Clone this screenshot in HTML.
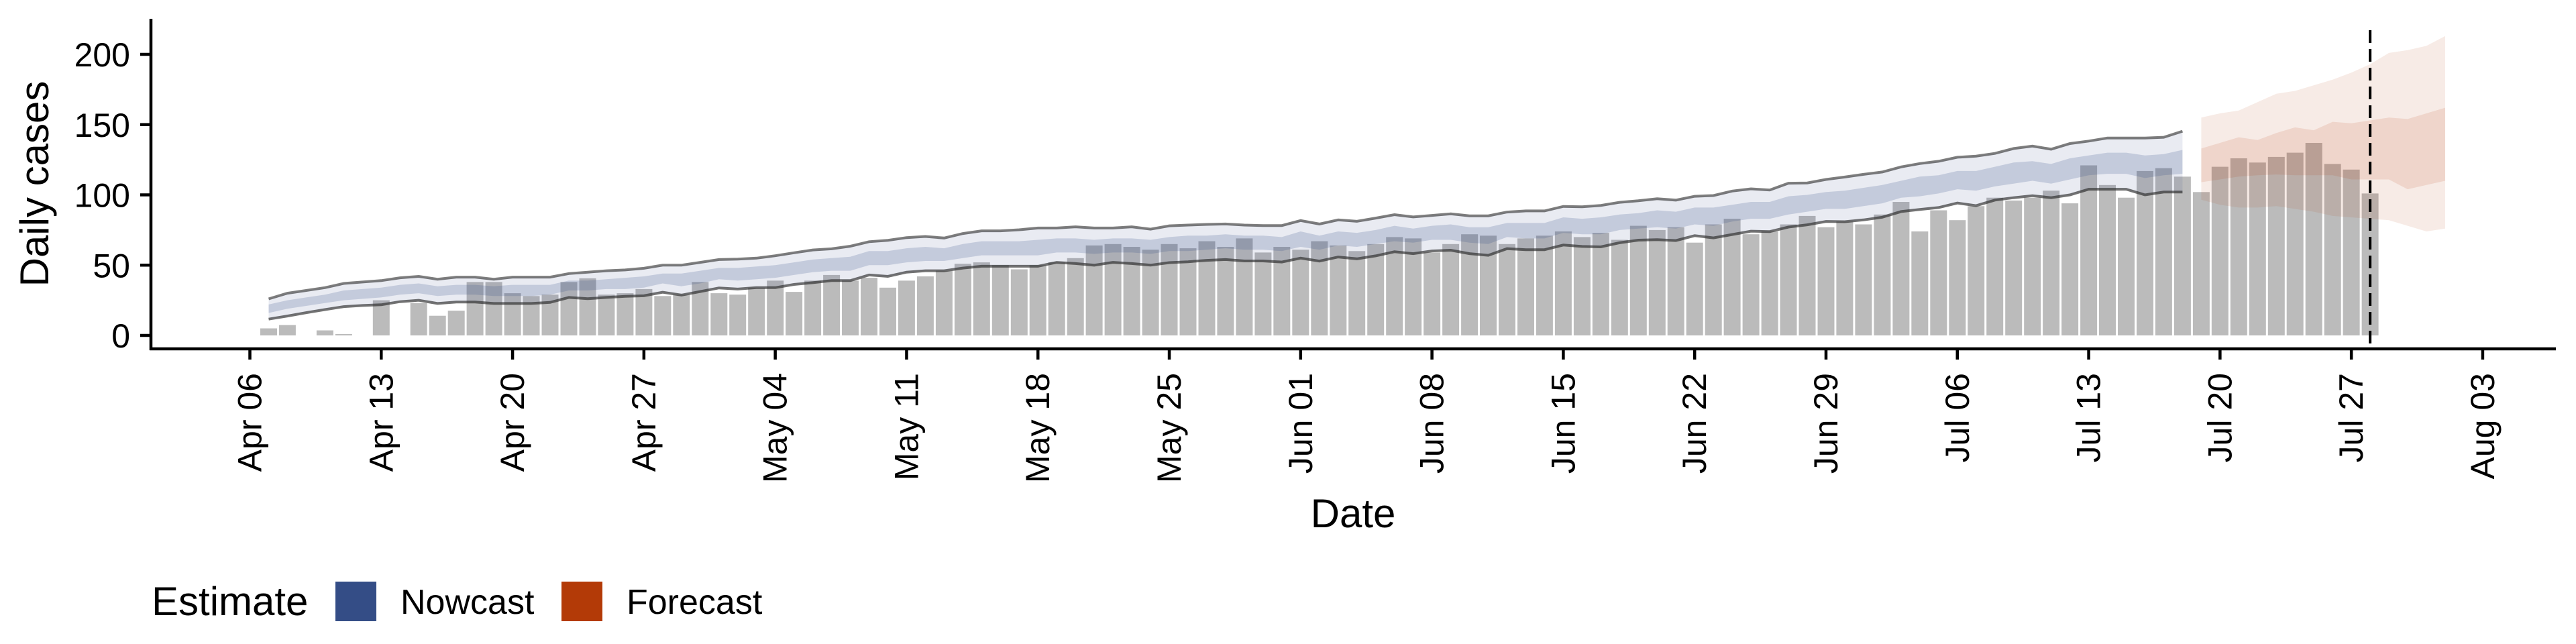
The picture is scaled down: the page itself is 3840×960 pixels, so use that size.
<!DOCTYPE html>
<html><head><meta charset="utf-8">
<style>
html,body{margin:0;padding:0;background:#fff;}
svg{display:block;font-family:"Liberation Sans",Arial,sans-serif;}
</style></head>
<body>
<svg id="chart" width="3840" height="960" viewBox="0 0 3840 960" xmlns="http://www.w3.org/2000/svg">
  <rect x="0" y="0" width="3840" height="960" fill="#fff"/>
  <g id="bars"></g>
  <g id="bands"></g>
  <g id="lines"></g>
  <g id="axes"></g>
  <text x="0" y="0" transform="translate(72,274) rotate(-90)" text-anchor="middle" font-size="60" fill="#000">Daily cases</text>
  <text x="2017" y="786" text-anchor="middle" font-size="60" fill="#000">Date</text>
  <g>
    <text x="226" y="917" font-size="60" fill="#000">Estimate</text>
    <rect x="500" y="867" width="61" height="59" fill="#344d86"/>
    <text x="597" y="915" font-size="52" fill="#000">Nowcast</text>
    <rect x="837" y="867" width="61" height="59" fill="#b33a07"/>
    <text x="934" y="915" font-size="52" fill="#000">Forecast</text>
  </g>
</svg>
<script>
// ---- data (day index 0 = Apr 06) ----
const yTicks = [0, 50, 100, 150, 200];
const xTickDays = [0,7,14,21,28,35,42,49,56,63,70,77,84,91,98,105,112,119];
const xTickLabels = ["Apr 06","Apr 13","Apr 20","Apr 27","May 04","May 11","May 18","May 25","Jun 01","Jun 08","Jun 15","Jun 22","Jun 29","Jul 06","Jul 13","Jul 20","Jul 27","Aug 03"];
const barStartDay = 1;
const cases = [5,7.4,0,3.6,1,0,25,0,23,14,17.6,38,38,30,28,29,38,40.6,29,30,33,28,29,38,30,29,34,39,31,39,43,39,41,34,39,42,46,51,52,50,47,50,52,55,64,65,63,61,65,62,67,63,69,59,63,61,67,64,60,65,70,69,59,65,72,71,65,69,71,74,70,73,68,78,75,77,66,79,83,72,74,79,85,77,81,79,86,95,74,89,82,92,98,96,98,103,94,121,107,98,117,119,113,102,120,126,123,127,130,137,122,118,101];
const nowStartDay = 1;
const nowUpper90 = [26,30,32,34,37,38,39,41,42,40,41.5,41.5,40,41.5,41.5,41.5,44,45,46,46.6,47.8,50,50,52,54,54.3,55,56.7,58.8,60.8,61.6,63.5,66.7,67.7,69.6,70.4,69.3,72.5,74.4,74.4,75.2,76.4,76.4,77.3,76.4,76.4,77.3,75.6,78,78.5,79,79.3,78.5,78.2,78.2,81.7,79.3,82.2,81.2,83.5,85.9,84.3,85.4,86.5,85.1,85.1,87.8,88.6,88.6,91.8,91.5,92.5,94.7,95.8,97.3,96.3,99,99.5,102.7,104.3,103.5,108.3,108.5,111,112.7,114.6,116.3,119.9,122.3,123.9,126.8,127.6,129.5,133,134.7,132.5,136.5,138.3,140.5,140.5,140.5,141,145.3];
const nowLower90 = [11.6,13.8,16.2,18.4,20.5,21.3,21.8,24,25,22.7,23.7,23.7,22.7,22.7,22.7,23.5,27,26.1,27,27.8,28.2,30.7,28.7,31.2,33.8,33,34,34,36.3,37.5,39,39,43,42,45,46,46,47.9,49.2,49.2,49.2,49.2,52,51.1,50,52,51.1,50,51.8,52.4,53.4,54,53,53,52.2,55,52.9,55.8,54.5,56.6,59.5,58.2,60.1,60.6,58.2,57,61.7,61,61,64.3,63.3,63,65.9,67.8,68.1,67.5,71,69.4,71.8,74.2,73.9,77.1,78.7,81.1,80.9,82.2,84.1,88.1,89.6,91,94.2,92.3,96.3,98,99.4,98,100,104,104,104,100,102,102];
const nowUpper50 = [22,25,27,29,32,33,34,36,37,35,36,36,35,36,36,36,39,39,40,41,42,44,44,46,48,48,49,50,52,54,55,56,60,60,62,63,62,65,67,67,67,68,69,69,68,69,69,68,70,71,71,72,71,71,70,74,71,74,73,75,78,76,78,79,77,77,80,80,80,84,83,84,86,87,89,88,91,91,93,95,95,99,100,102,103,105,107,110,113,114,117,117,120,123,124,122,126,128,130,130,128,129,132];
const nowLower50 = [16,19,21,23,25,26,27,29,30,28,29,29,28,28,28,29,32,32,33,33,34,37,35,37,40,39,40,41,43,45,46,46,50,50,52,53,53,55,57,57,57,57,59,59,58,59,59,58,60,60,61,62,61,61,60,63,61,64,63,65,67,66,68,68,66,65,70,69,69,73,72,72,75,76,77,76,79,78,81,83,83,86,88,90,90,92,94,98,99,101,104,103,106,108,110,108,111,114,115,115,112,114,115];
const foreStartDay = 104;
const foreUpper90 = [155,158,160,166,172,174,178,182,187,193,201,203,206,213];
const foreLower90 = [96.5,93,91,91,92,90,88,85,84,83,82,78,74,76];
const foreUpper50 = [133,137,141,139,144,148,146,152,151,153,155,154,158,162];
const foreLower50 = [109,111,113,114,114.5,114,114,114,111,111,111,104,107,110];
const dataEndDay = 113;

// ---- scales ----
const X0 = 372.5, DX = 27.97, Y0 = 500, DY = 2.095;
function xs(d){ return X0 + DX * d; }
function ys(v){ return Y0 - DY * v; }
const NS = "http://www.w3.org/2000/svg";
function mk(tag, parent){ const e = document.createElementNS(NS, tag); parent.appendChild(e); return e; }

// ---- bars ----
const gBars = document.getElementById('bars');
cases.forEach(function(v, i){
  if (v <= 0) return;
  const d = barStartDay + i;
  const r = mk('rect', gBars);
  r.setAttribute('x', (xs(d) - 12.5).toFixed(1));
  r.setAttribute('y', ys(v).toFixed(1));
  r.setAttribute('width', 25);
  r.setAttribute('height', (ys(0) - ys(v)).toFixed(1));
  r.setAttribute('fill', '#bbbbbb');
  
  
});

// ---- bands ----
function bandPath(start, up, lo){
  let p = '';
  up.forEach(function(v, i){ p += (i ? 'L' : 'M') + xs(start + i).toFixed(1) + ',' + ys(v).toFixed(1); });
  for (let i = lo.length - 1; i >= 0; i--) p += 'L' + xs(start + i).toFixed(1) + ',' + ys(lo[i]).toFixed(1);
  return p + 'Z';
}
const gBands = document.getElementById('bands');
const b1 = mk('path', gBands);
b1.setAttribute('d', bandPath(nowStartDay, nowUpper90, nowLower90));
b1.setAttribute('fill', 'rgba(52,77,134,0.11)');


const b2 = mk('path', gBands);
b2.setAttribute('d', bandPath(nowStartDay, nowUpper50, nowLower50));
b2.setAttribute('fill', 'rgba(52,77,134,0.2)');


const b3 = mk('path', gBands);
b3.setAttribute('d', bandPath(foreStartDay, foreUpper90, foreLower90));
b3.setAttribute('fill', 'rgba(179,58,7,0.1)');


const b4 = mk('path', gBands);
b4.setAttribute('d', bandPath(foreStartDay, foreUpper50, foreLower50));
b4.setAttribute('fill', 'rgba(179,58,7,0.12)');



// ---- lines ----
function linePath(start, arr){
  return arr.map(function(v, i){ return (i ? 'L' : 'M') + xs(start + i).toFixed(1) + ',' + ys(v).toFixed(1); }).join('');
}
const gLines = document.getElementById('lines');
const l1 = mk('path', gLines);
l1.setAttribute('d', linePath(nowStartDay, nowUpper90));
l1.setAttribute('fill', 'none');
l1.setAttribute('stroke', 'rgba(40,40,40,0.6)');
l1.setAttribute('stroke-width', '4');


const l2 = mk('path', gLines);
l2.setAttribute('d', linePath(nowStartDay, nowLower90));
l2.setAttribute('fill', 'none');
l2.setAttribute('stroke', 'rgba(40,40,40,0.65)');
l2.setAttribute('stroke-width', '4');



// ---- axes ----
const gAx = document.getElementById('axes');
const yAxis = mk('line', gAx);
yAxis.setAttribute('x1', 225); yAxis.setAttribute('x2', 225);
yAxis.setAttribute('y1', 28); yAxis.setAttribute('y2', 522);
yAxis.setAttribute('stroke', '#000'); yAxis.setAttribute('stroke-width', '4.5');


const xAxis = mk('line', gAx);
xAxis.setAttribute('x1', 223); xAxis.setAttribute('x2', 3810);
xAxis.setAttribute('y1', 520); xAxis.setAttribute('y2', 520);
xAxis.setAttribute('stroke', '#000'); xAxis.setAttribute('stroke-width', '4.5');


yTicks.forEach(function(v){
  const t = mk('line', gAx);
  t.setAttribute('x1', 209); t.setAttribute('x2', 225);
  t.setAttribute('y1', ys(v)); t.setAttribute('y2', ys(v));
  t.setAttribute('stroke', '#000'); t.setAttribute('stroke-width', '4.5');
  
  
  const tx = mk('text', gAx);
  tx.setAttribute('x', 194); tx.setAttribute('y', ys(v) + 18);
  tx.setAttribute('text-anchor', 'end'); tx.setAttribute('font-size', '50');
  tx.textContent = String(v);
  
  
});
xTickDays.forEach(function(d, i){
  const x = xs(d);
  const t = mk('line', gAx);
  t.setAttribute('x1', x); t.setAttribute('x2', x);
  t.setAttribute('y1', 520); t.setAttribute('y2', 536);
  t.setAttribute('stroke', '#000'); t.setAttribute('stroke-width', '4.5');
  
  
  const tx = mk('text', gAx);
  tx.setAttribute('x', 0); tx.setAttribute('y', 0);
  tx.setAttribute('transform', 'translate(' + (x + 17).toFixed(1) + ',556) rotate(-90)');
  tx.setAttribute('text-anchor', 'end'); tx.setAttribute('font-size', '50');
  tx.textContent = xTickLabels[i];
  
  
});
const dash = mk('line', gAx);
dash.setAttribute('x1', xs(dataEndDay)); dash.setAttribute('x2', xs(dataEndDay));
dash.setAttribute('y1', 45); dash.setAttribute('y2', 520);
dash.setAttribute('stroke', '#000'); dash.setAttribute('stroke-width', '4');
dash.setAttribute('stroke-dasharray', '19,9');


</script>
</body></html>
